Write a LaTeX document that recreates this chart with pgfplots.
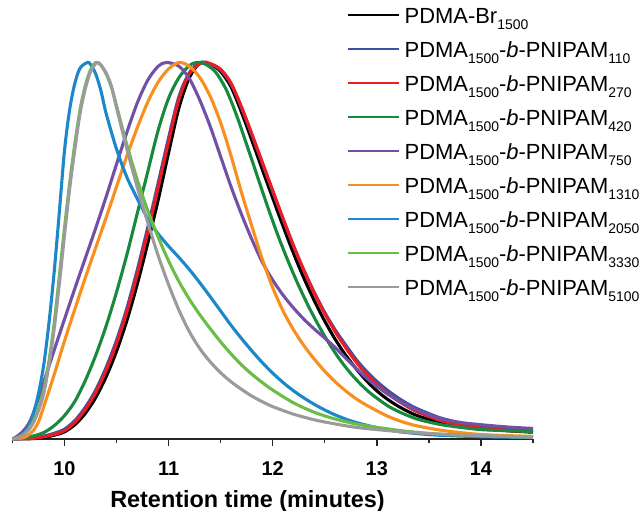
\documentclass[border=0pt]{standalone}
\usepackage{fontspec}
\setmainfont{Liberation Sans}
\usepackage{pgfplots}
\pgfplotsset{compat=1.18}

\definecolor{cblack}{HTML}{000000}
\definecolor{cblue}{HTML}{3D52A1}
\definecolor{cred}{HTML}{ED1C24}
\definecolor{cgreen}{HTML}{178A3E}
\definecolor{cpurple}{HTML}{7150A5}
\definecolor{corange}{HTML}{F7901E}
\definecolor{clblue}{HTML}{1C87C9}
\definecolor{clgreen}{HTML}{6ABD45}
\definecolor{cgray}{HTML}{9B9B9B}

\newcommand{\sub}[1]{\raisebox{-6.5bp}{\fontsize{14}{14}\selectfont #1}}

\begin{document}
\begin{tikzpicture}
\useasboundingbox (0,0) rectangle (640bp,511bp);
\begin{axis}[
    at={(12.4bp,72bp)}, anchor=south west,
    scale only axis,
    width=520.6bp, height=376.5bp,
    xmin=9.5, xmax=14.5, ymin=0, ymax=1,
    enlargelimits=false, clip=false,
    axis x line*=bottom, axis y line=none,
    axis line style={line width=1.6bp, color=black!85},
    xtick={10,11,12,13,14},
    minor xtick={9.5,10.5,11.5,12.5,13.5,14.5},
    tick align=outside,
    major tick length=7bp, minor tick length=4bp,
    tick style={line width=1.4bp, color=black!85},
    /pgf/number format/assume math mode=true,
    xticklabel style={font=\fontsize{20}{20}\selectfont\bfseries, inner sep=0pt, anchor=base, yshift=-29bp},
    xlabel={Retention time (minutes)},
    every axis x label/.style={at={(rel axis cs:0.4516,0)}, anchor=base, yshift=-68bp, font=\fontsize{23.5}{24}\selectfont\bfseries},
    every axis plot/.append style={line width=3.1bp, smooth, tension=0.5},
    legend cell align=left,
    legend image code/.code={\draw[#1, line width=2bp] (0bp,0bp) -- (51bp,0bp);},
    legend style={draw=none, fill=none, inner sep=0pt, outer sep=0pt,
        at={(rel axis cs:0.6422,1.1713)}, anchor=north west,
        row sep=0pt, column sep=5bp,
        nodes={inner sep=0pt, text height=25bp, text depth=9bp, font=\fontsize{22}{24}\selectfont}},
]

% PDMA-Br1500
\addplot[cblack] coordinates {
(9.5,0) (9.7,0.001) (9.8,0.004) (9.9,0.01) (10.0,0.019) (10.1,0.038) (10.2,0.068)
(10.3,0.11) (10.4,0.165) (10.5,0.233) (10.6,0.315) (10.7,0.412) (10.8,0.52)
(10.9,0.635) (11.0,0.76) (11.1,0.88) (11.2,0.96) (11.3,0.998) (11.4,0.995)
(11.5,0.976) (11.6,0.935) (11.7,0.868) (11.8,0.793) (11.9,0.716) (12.0,0.64)
(12.1,0.565) (12.2,0.493) (12.3,0.427) (12.4,0.367) (12.5,0.313) (12.6,0.265)
(12.7,0.223) (12.8,0.187) (12.9,0.155) (13.0,0.128) (13.1,0.106) (13.2,0.088)
(13.3,0.073) (13.4,0.061) (13.6,0.044) (13.8,0.033) (14.0,0.027) (14.25,0.022) (14.5,0.018)
};
\addlegendentry{PDMA-Br\sub{1500}}

% 110
\addplot[cblue] coordinates {
(9.5,0) (9.7,0.003) (9.8,0.008) (9.9,0.015) (10.0,0.026) (10.1,0.049) (10.2,0.084)
(10.3,0.13) (10.4,0.19) (10.5,0.262) (10.6,0.348) (10.7,0.45) (10.8,0.562)
(10.9,0.68) (11.0,0.8) (11.1,0.91) (11.2,0.973) (11.3,1.0) (11.4,0.996)
(11.5,0.98) (11.6,0.943) (11.7,0.88) (11.8,0.808) (11.9,0.733) (12.0,0.658)
(12.1,0.584) (12.2,0.513) (12.3,0.448) (12.4,0.389) (12.5,0.336) (12.6,0.29)
(12.7,0.25) (12.8,0.212) (12.9,0.18) (13.0,0.153) (13.1,0.13) (13.2,0.11)
(13.3,0.093) (13.4,0.079) (13.6,0.057) (13.8,0.043) (14.0,0.035) (14.25,0.029) (14.5,0.025)
};
\addlegendentry{PDMA\sub{1500}-\textit{b}-PNIPAM\sub{110}}

% 270
\addplot[cred] coordinates {
(9.5,0) (9.7,0.002) (9.8,0.006) (9.9,0.012) (10.0,0.022) (10.1,0.044) (10.2,0.078)
(10.3,0.123) (10.4,0.182) (10.5,0.253) (10.6,0.338) (10.7,0.438) (10.8,0.55)
(10.9,0.668) (11.0,0.79) (11.1,0.903) (11.2,0.97) (11.32,1.0) (11.4,0.997)
(11.5,0.982) (11.6,0.945) (11.7,0.882) (11.8,0.81) (11.9,0.735) (12.0,0.66)
(12.1,0.585) (12.2,0.513) (12.3,0.447) (12.4,0.387) (12.5,0.333) (12.6,0.285)
(12.7,0.243) (12.8,0.205) (12.9,0.172) (13.0,0.145) (13.1,0.122) (13.2,0.102)
(13.3,0.085) (13.4,0.071) (13.6,0.05) (13.8,0.037) (14.0,0.029) (14.25,0.023) (14.5,0.019)
};
\addlegendentry{PDMA\sub{1500}-\textit{b}-PNIPAM\sub{270}}

% 420
\addplot[cgreen] coordinates {
(9.5,0) (9.6,0.003) (9.7,0.008) (9.8,0.017) (9.9,0.035) (10.0,0.062) (10.1,0.1)
(10.2,0.155) (10.3,0.222) (10.4,0.3) (10.5,0.39) (10.6,0.49) (10.7,0.6)
(10.8,0.71) (10.9,0.82) (11.0,0.905) (11.1,0.96) (11.2,0.992) (11.27,1.0)
(11.35,0.996) (11.45,0.975) (11.55,0.93) (11.65,0.862) (11.75,0.782) (11.85,0.7)
(11.95,0.618) (12.05,0.541) (12.15,0.471) (12.25,0.407) (12.35,0.349) (12.45,0.297)
(12.55,0.25) (12.65,0.209) (12.75,0.174) (12.85,0.144) (12.95,0.119) (13.1,0.089)
(13.2,0.074) (13.3,0.062) (13.4,0.052) (13.6,0.039) (13.8,0.031) (14.0,0.025) (14.25,0.022) (14.5,0.02)
};
\addlegendentry{PDMA\sub{1500}-\textit{b}-PNIPAM\sub{420}}

% 750
\addplot[cpurple] coordinates {
(9.5,0) (9.55,0.008) (9.6,0.02) (9.65,0.038) (9.7,0.068) (9.8,0.15) (9.9,0.235)
(10.0,0.318) (10.1,0.4) (10.2,0.48) (10.3,0.56) (10.4,0.643) (10.5,0.73)
(10.6,0.815) (10.7,0.893) (10.8,0.953) (10.9,0.99) (10.98,1.0) (11.1,0.99)
(11.2,0.957) (11.3,0.9) (11.4,0.83) (11.5,0.75) (11.6,0.67) (11.7,0.597)
(11.8,0.53) (11.9,0.47) (12.0,0.422) (12.1,0.382) (12.2,0.348) (12.3,0.318)
(12.4,0.292) (12.5,0.268) (12.6,0.243) (12.7,0.215) (12.8,0.188) (12.9,0.162)
(13.0,0.14) (13.1,0.12) (13.2,0.103) (13.3,0.088) (13.4,0.075) (13.6,0.055)
(13.8,0.044) (14.0,0.038) (14.25,0.032) (14.5,0.028)
};
\addlegendentry{PDMA\sub{1500}-\textit{b}-PNIPAM\sub{750}}

% 1310
\addplot[corange] coordinates {
(9.5,0) (9.6,0.003) (9.65,0.01) (9.7,0.022) (9.75,0.045) (9.8,0.085) (9.9,0.17)
(10.0,0.26) (10.1,0.345) (10.2,0.428) (10.3,0.508) (10.4,0.588) (10.5,0.67)
(10.6,0.752) (10.7,0.827) (10.8,0.895) (10.9,0.948) (11.0,0.983) (11.1,1.0)
(11.2,0.99) (11.3,0.96) (11.4,0.91) (11.5,0.84) (11.6,0.752) (11.7,0.655)
(11.8,0.565) (11.9,0.478) (12.0,0.402) (12.1,0.34) (12.2,0.29) (12.3,0.248)
(12.4,0.212) (12.5,0.18) (12.6,0.152) (12.7,0.128) (12.8,0.107) (12.9,0.09)
(13.0,0.075) (13.1,0.061) (13.2,0.05) (13.3,0.041) (13.4,0.034) (13.6,0.024)
(13.8,0.017) (14.0,0.012) (14.25,0.009) (14.5,0.007)
};
\addlegendentry{PDMA\sub{1500}-\textit{b}-PNIPAM\sub{1310}}

% 2050
\addplot[clblue] coordinates {
(9.5,0) (9.55,0.003) (9.6,0.012) (9.65,0.03) (9.7,0.065) (9.75,0.12) (9.8,0.195)
(9.85,0.305) (9.9,0.44) (9.95,0.6) (10.0,0.765) (10.05,0.875) (10.1,0.945)
(10.15,0.985) (10.22,1.0) (10.25,0.995) (10.3,0.97) (10.35,0.925) (10.4,0.865)
(10.5,0.77) (10.6,0.695) (10.7,0.638) (10.8,0.585) (10.9,0.545) (11.0,0.512)
(11.1,0.482) (11.2,0.45) (11.3,0.415) (11.4,0.378) (11.5,0.34) (11.6,0.302)
(11.7,0.267) (11.8,0.234) (11.9,0.203) (12.0,0.175) (12.1,0.15) (12.2,0.128)
(12.3,0.109) (12.4,0.092) (12.5,0.077) (12.6,0.064) (12.7,0.053) (12.8,0.044)
(13.0,0.03) (13.2,0.02) (13.4,0.014) (13.6,0.01) (14.0,0.006) (14.5,0.004)
};
\addlegendentry{PDMA\sub{1500}-\textit{b}-PNIPAM\sub{2050}}

% 3330
\addplot[clgreen] coordinates {
(9.5,0) (9.55,0.004) (9.6,0.011) (9.65,0.024) (9.7,0.046) (9.75,0.08) (9.8,0.13)
(9.85,0.205) (9.9,0.305) (9.95,0.43) (10.0,0.56) (10.05,0.68) (10.1,0.785)
(10.15,0.875) (10.2,0.938) (10.25,0.98) (10.3,1.0) (10.35,0.993) (10.4,0.97)
(10.45,0.935) (10.5,0.885) (10.6,0.78) (10.7,0.688) (10.8,0.607) (10.9,0.536)
(11.0,0.473) (11.1,0.418) (11.2,0.371) (11.3,0.33) (11.4,0.293) (11.5,0.258)
(11.6,0.226) (11.7,0.197) (11.8,0.172) (11.9,0.15) (12.0,0.13) (12.2,0.096)
(12.4,0.071) (12.6,0.053) (12.8,0.04) (13.0,0.031) (13.3,0.02) (13.6,0.013)
(14.0,0.008) (14.5,0.005)
};
\addlegendentry{PDMA\sub{1500}-\textit{b}-PNIPAM\sub{3330}}

% 5100
\addplot[cgray] coordinates {
(9.5,0) (9.55,0.003) (9.6,0.01) (9.65,0.022) (9.7,0.042) (9.75,0.075) (9.8,0.12)
(9.85,0.195) (9.9,0.29) (9.95,0.41) (10.0,0.54) (10.05,0.665) (10.1,0.77)
(10.15,0.865) (10.2,0.93) (10.25,0.975) (10.31,1.0) (10.35,0.993) (10.4,0.972)
(10.45,0.938) (10.5,0.88) (10.6,0.77) (10.7,0.668) (10.8,0.575) (10.9,0.487)
(11.0,0.41) (11.1,0.342) (11.2,0.285) (11.3,0.24) (11.4,0.205) (11.5,0.176)
(11.6,0.152) (11.7,0.132) (11.8,0.114) (11.9,0.099) (12.0,0.086) (12.2,0.066)
(12.4,0.051) (12.6,0.04) (12.8,0.031) (13.0,0.025) (13.3,0.018) (13.6,0.013)
(14.0,0.009) (14.5,0.005)
};
\addlegendentry{PDMA\sub{1500}-\textit{b}-PNIPAM\sub{5100}}

\end{axis}
\end{tikzpicture}
\end{document}
